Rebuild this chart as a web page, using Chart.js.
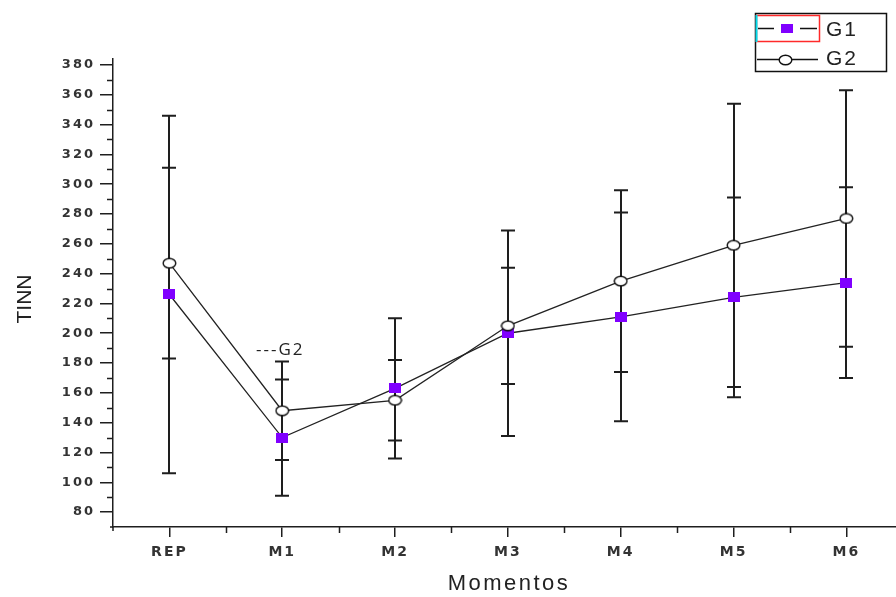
<!DOCTYPE html>
<html><head><meta charset="utf-8">
<script src="https://cdn.jsdelivr.net/npm/chart.js@4.4.1/dist/chart.umd.min.js"></script>
<style>html,body{margin:0;padding:0;background:#fff;}#wrap{width:896px;height:597px;position:relative;}</style>
</head><body><div id="wrap"><canvas id="c"></canvas></div>
<script>
const categories = ['REP','M1','M2','M3','M4','M5','M6'];
const g1Mean = [226,130,163,200,211,224,234];
const g1Sd   = [120,39,47,69,70,67,64];
const g2Mean = [247,148,155,205,235,259,277];
const g2Sd   = [64,33,27,39,61,95,86];
const yTickValues  = [80,100,120,140,160,180,200,220,240,260,280,300,320,340,360,380];
const yMinorValues = [90,110,130,150,170,190,210,230,250,270,290,310,330,350,370];
const xMinorValues = [0.5,1.5,2.5,3.5,4.5,5.5];
const seriesNames = ['G1','G2'];
const annotationText = '---G2';

const PURPLE = '#8000ff';
const INK = '#1e1e1e';

function makeSquare(){
  const c = document.createElement('canvas'); c.width = 12; c.height = 10;
  const g = c.getContext('2d'); g.fillStyle = PURPLE; g.fillRect(0,0,12,10); return c;
}
function makeCircle(){
  const c = document.createElement('canvas'); c.width = 15; c.height = 12;
  const g = c.getContext('2d'); g.beginPath(); g.ellipse(7.5,6,6.3,4.8,0,0,Math.PI*2);
  g.fillStyle = '#fff'; g.fill(); g.lineWidth = 1.4; g.strokeStyle = '#111'; g.stroke(); return c;
}
const sq = makeSquare(), ci = makeCircle();

const errorBars = {
  id: 'errorBars',
  beforeDatasetsDraw(chart){
    const {ctx, scales:{x, y}} = chart;
    ctx.save(); ctx.strokeStyle = INK; ctx.lineWidth = 2;
    [[g1Mean,g1Sd],[g2Mean,g2Sd]].forEach(([m,s]) => {
      m.forEach((v,i) => {
        const px = Math.round(x.getPixelForValue(i));
        const t = y.getPixelForValue(v + s[i]), b = y.getPixelForValue(v - s[i]);
        ctx.beginPath();
        ctx.moveTo(px, t); ctx.lineTo(px, b);
        ctx.moveTo(px-7, t); ctx.lineTo(px+7, t);
        ctx.moveTo(px-7, b); ctx.lineTo(px+7, b);
        ctx.stroke();
      });
    });
    ctx.restore();
  }
};

const spacing = {
  id: 'spacing',
  beforeDraw(chart){ chart.ctx.letterSpacing = '2px'; },
  beforeDatasetsDraw(chart){ chart.ctx.letterSpacing = '0px'; }
};

const extras = {
  id: 'extras',
  afterDraw(chart){
    const {ctx, scales:{x, y}} = chart;
    ctx.save();
    ctx.letterSpacing = '0px';
    ctx.strokeStyle = INK; ctx.lineWidth = 1.5;
    // minor ticks and axis corner stubs
    ctx.beginPath();
    yMinorValues.forEach(v => { const py = Math.round(y.getPixelForValue(v)) + 0.5; ctx.moveTo(x.left - 6, py); ctx.lineTo(x.left, py); });
    xMinorValues.forEach(v => { const px = Math.round(x.getPixelForValue(v)) + 0.5; ctx.moveTo(px, y.bottom); ctx.lineTo(px, y.bottom + 6); });
    ctx.moveTo(x.left, y.bottom); ctx.lineTo(x.left, y.bottom + 4);
    ctx.moveTo(x.left, y.bottom); ctx.lineTo(x.left - 3, y.bottom);
    ctx.stroke();

    ctx.fillStyle = '#222';
    // y title
    ctx.save();
    ctx.translate(31, 299); ctx.rotate(-Math.PI/2);
    ctx.font = '21px "Liberation Sans", Arial, sans-serif';
    ctx.textAlign = 'center'; ctx.textBaseline = 'alphabetic';
    ctx.fillText('TINN', 0, 0);
    ctx.restore();
    // x title
    ctx.save();
    ctx.font = '22px "Liberation Sans", Arial, sans-serif';
    ctx.letterSpacing = '2.5px';
    ctx.textAlign = 'center'; ctx.textBaseline = 'alphabetic';
    ctx.fillText('Momentos', 509, 590);
    ctx.restore();
    // annotation
    ctx.save();
    ctx.font = '17px "Open Sans", sans-serif';
    ctx.letterSpacing = '2px';
    ctx.textAlign = 'left'; ctx.textBaseline = 'alphabetic';
    ctx.fillText(annotationText, 256, 355);
    ctx.restore();

    // legend
    ctx.lineWidth = 1.5; ctx.strokeStyle = '#111';
    ctx.strokeRect(755.5, 13.5, 131, 58);
    ctx.strokeStyle = '#ff2a2a';
    ctx.strokeRect(756.5, 15.5, 63, 26);
    ctx.strokeStyle = '#00e0f0'; ctx.lineWidth = 2;
    ctx.beginPath(); ctx.moveTo(756.5, 15); ctx.lineTo(756.5, 42); ctx.stroke();
    ctx.strokeStyle = '#111'; ctx.lineWidth = 1.3;
    ctx.beginPath();
    ctx.moveTo(758, 28.5); ctx.lineTo(774, 28.5);
    ctx.moveTo(800, 28.5); ctx.lineTo(817, 28.5);
    ctx.moveTo(757, 59.5); ctx.lineTo(818, 59.5);
    ctx.stroke();
    ctx.drawImage(sq, 781, 24, 12, 9);
    ctx.drawImage(ci, 778, 54);
    ctx.font = '21px "Liberation Sans", Arial, sans-serif';
    ctx.letterSpacing = '2px';
    ctx.fillStyle = '#222'; ctx.textAlign = 'left'; ctx.textBaseline = 'alphabetic';
    ctx.fillText(seriesNames[0], 826, 36);
    ctx.fillText(seriesNames[1], 826, 65);
    ctx.restore();
  }
};

new Chart(document.getElementById('c'), {
  type: 'line',
  data: {
    datasets: [
      { label: seriesNames[0], data: g1Mean.map((v,i)=>({x:i,y:v})), borderColor: '#222', borderWidth: 1.3,
        pointStyle: sq, pointRadius: 6, pointHoverRadius: 6, order: 1, fill: false, tension: 0 },
      { label: seriesNames[1], data: g2Mean.map((v,i)=>({x:i,y:v})), borderColor: '#222', borderWidth: 1.3,
        pointStyle: ci, pointRadius: 6, pointHoverRadius: 6, order: 0, fill: false, tension: 0 }
    ]
  },
  options: {
    responsive: true, maintainAspectRatio: false, animation: false,
    layout: { autoPadding: false, padding: { top: 59, left: 0, right: 0, bottom: 0 } },
    plugins: { legend: { display: false }, tooltip: { enabled: false } },
    scales: {
      x: {
        type: 'linear', min: -0.5, max: 6.44,
        afterBuildTicks: s => { s.ticks = categories.map((c,i)=>({value:i})); },
        afterFit: s => { s.height = 70; s.paddingRight = 0; s.paddingLeft = 0; },
        ticks: { callback: v => categories[v] ?? '', autoSkip: false, maxRotation: 0, padding: 7,
                 color: '#333', font: { family: '"DejaVu Sans", sans-serif', size: 14, weight: 'bold' } },
        grid: { display: true, drawOnChartArea: false, drawTicks: true, tickLength: 10, color: INK, lineWidth: 1.5 },
        border: { display: true, color: INK, width: 1.5 }
      },
      y: {
        type: 'linear', min: 70, max: 384,
        afterBuildTicks: s => { s.ticks = yTickValues.map(v=>({value:v})); },
        afterFit: s => { s.width = 113; s.paddingTop = 0; s.paddingBottom = 0; },
        ticks: { padding: 5, color: '#333', font: { family: '"DejaVu Sans", sans-serif', size: 13, weight: 'bold' } },
        grid: { display: true, drawOnChartArea: false, drawTicks: true, tickLength: 13, color: INK, lineWidth: 1.5 },
        border: { display: true, color: INK, width: 1.5 }
      }
    }
  },
  plugins: [spacing, errorBars, extras]
});
</script></body></html>
